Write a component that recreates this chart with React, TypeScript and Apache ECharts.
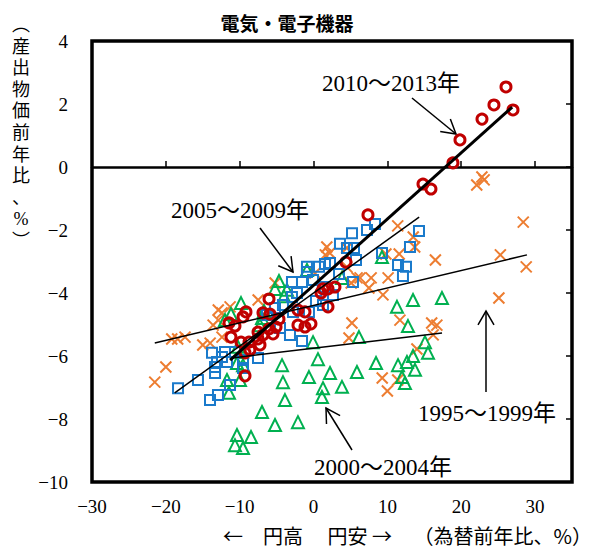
import React, { useEffect, useRef } from "react";
import * as echarts from "echarts";

const titleText = "電気・電子機器";
const xAxisNameLeft = "←　円高　 円安 →";
const xAxisNameRight = "（為替前年比、%）";
const yAxisNameChars = ["︵", "産", "出", "物", "価", "前", "年", "比", "、", "%", "︶"];
const xMin = -30;
const xMax = 35;
const yMin = -10;
const yMax = 4;

// 1995～1999年 (orange crosses)
const s1995: number[][] = [
  [-21.5, -6.83], [-20.0, -6.35], [-19.2, -5.46], [-18.4, -5.46], [-17.4, -5.4], [-15.0, -5.65],
  [-14.0, -5.59], [-13.6, -5.02], [-12.9, -4.54], [-12.4, -4.63], [-11.3, -4.44], [-12.4, -5.4],
  [-7.5, -4.22], [-5.2, -3.68], [-12.9, -4.86], [1.6, -2.79], [0.2, -3.37], [11.4, -1.87],
  [13.5, -2.22], [13.7, -2.54], [16.5, -2.95], [11.6, -2.76], [9.8, -2.76], [10.1, -3.52],
  [9.4, -4.06], [7.8, -3.52], [5.9, -3.52], [5.1, -3.68], [7.5, -3.84], [1.8, -2.54],
  [2.2, -2.73], [4.5, -2.57], [4.5, -3.17], [5.2, -4.95], [4.8, -5.43], [11.7, -4.86],
  [16.0, -4.95], [16.7, -5.02], [16.2, -5.33], [14.0, -5.78], [9.3, -6.7], [11.4, -6.76],
  [10.0, -7.11], [22.1, -0.57], [22.8, -0.32], [23.1, -0.41], [28.4, -1.75], [25.3, -2.79],
  [28.8, -3.17], [25.1, -4.16], [6.3, -3.52],
];

// 2000～2004年 (green triangles)
const s2000: number[][] = [
  [-4.27, -6.29], [-4.14, -6.83], [-3.87, -7.4], [-6.98, -7.78], [-5.22, -8.19], [-10.37, -8.51],
  [-8.47, -8.57], [-10.64, -8.83], [-9.55, -8.92], [-11.72, -6.76], [-9.96, -6.76], [-11.45, -7.17],
  [-2.11, -8.1], [0.6, -6.1], [-0.62, -6.67], [2.23, -6.54], [1.28, -7.02], [1.14, -7.3],
  [3.85, -6.98], [5.88, -6.51], [8.46, -6.22], [11.44, -6.29], [12.65, -6.19], [13.47, -6.0],
  [13.74, -6.44], [11.98, -6.67], [12.38, -6.86], [15.09, -5.56], [15.5, -5.9], [-0.07, -5.56],
  [6.15, -5.4], [9.27, -2.86], [13.47, -4.22], [17.39, -4.16], [11.3, -4.44], [12.79, -5.05],
  [3.85, -3.52], [-4.68, -3.62], [-0.89, -3.27], [-3.6, -3.9], [-4.0, -4.1], [-9.82, -4.32],
  [-6.71, -4.57], [-11.18, -4.67], [-6.98, -4.79], [-11.99, -4.86], [-7.25, -5.02], [-10.23, -5.71],
  [-9.69, -5.87], [-10.37, -6.22], [-9.55, -6.29], [-5.22, -3.87],
];

// 2005～2009年 (blue squares)
const s2005: number[][] = [
  [8.32, -1.81], [7.24, -2.0], [5.21, -2.1], [14.28, -2.03], [13.06, -2.54], [9.27, -2.73],
  [11.44, -3.11], [12.52, -3.17], [12.11, -3.46], [3.58, -2.44], [4.53, -2.57], [5.48, -2.57],
  [5.75, -2.95], [3.45, -3.4], [5.34, -3.65], [1.55, -3.08], [2.23, -3.05], [0.74, -3.17],
  [-0.89, -3.17], [-0.89, -3.33], [-2.92, -3.65], [-1.56, -3.65], [-0.07, -3.59], [-2.92, -4.13],
  [-2.24, -4.0], [0.33, -4.25], [1.28, -4.38], [-0.62, -4.6], [2.63, -4.06], [-2.78, -4.6],
  [-3.19, -5.33], [-1.56, -5.52], [-4.54, -5.11], [-4.14, -4.38], [-5.22, -4.48], [-6.3, -4.7],
  [1.55, -3.81], [-13.75, -5.9], [-12.4, -6.03], [-13.07, -6.19], [-13.34, -6.35], [-11.99, -5.87],
  [-10.64, -5.87], [-9.55, -6.13], [-9.55, -6.38], [-7.52, -6.06], [-13.34, -6.54], [-15.65, -6.76],
  [-18.35, -7.02], [-14.02, -7.4], [-12.94, -7.24], [-11.31, -6.92], [-11.72, -6.19],
];

// 2010～2013年 (red circles)
const s2010: number[][] = [
  [26.06, 2.54], [24.43, 1.97], [22.81, 1.52], [19.83, 0.86], [18.88, 0.13], [14.82, -0.54],
  [15.9, -0.7], [27.01, 1.81], [7.37, -1.52], [4.39, -3.02], [2.9, -3.81], [1.96, -3.87],
  [1.01, -4.0], [1.96, -4.44], [-2.11, -4.54], [-1.16, -4.6], [-2.11, -5.02], [-1.16, -5.08],
  [-0.35, -4.98], [-6.03, -4.19], [-9.15, -4.6], [-9.55, -4.76], [-11.45, -4.95], [-10.64, -5.05],
  [-6.85, -4.63], [-5.9, -4.67], [-4.68, -4.83], [-5.08, -5.08], [-6.03, -5.14], [-7.52, -5.24],
  [-6.85, -5.33], [-5.49, -5.3], [-7.52, -5.46], [-8.74, -5.56], [-11.18, -5.4], [-9.82, -5.56],
  [-8.61, -5.81], [-9.28, -5.9], [-7.25, -5.65], [-9.28, -6.63], [1.28, -3.87],
];

// regression lines (end points)
const fit1995: number[][] = [[-21.5, -5.59], [28.9, -2.79]];
const fit2000: number[][] = [[-11.0, -6.06], [17.4, -5.27]];
const fit2005: number[][] = [[-18.8, -7.17], [14.3, -1.59]];
const fit2010: number[][] = [[-11.3, -6.13], [26.9, 1.9]];

const annotations = [
  { text: "2010～2013年", x: 391, y: 83, tail: [412, 98], tip: [456, 134] },
  { text: "2005～2009年", x: 240, y: 210, tail: [260, 228], tip: [293, 272] },
  { text: "1995～1999年", x: 487, y: 413, tail: [486, 392], tip: [486, 311] },
  { text: "2000～2004年", x: 383, y: 467, tail: [352, 450], tip: [326, 408] },
];

const SERIF = '"Liberation Serif", "Noto Sans CJK JP", serif';
const CJK = '"Noto Sans CJK JP", sans-serif';

function fmt(v: number): string {
  if (v > 30) return "";
  return v < 0 ? "\u2212" + Math.abs(v) : String(v);
}

function arrowHead(tail: number[], tip: number[], len = 16, ang = (30 * Math.PI) / 180) {
  const dx = tail[0] - tip[0];
  const dy = tail[1] - tip[1];
  const d = Math.hypot(dx, dy);
  const ux = dx / d;
  const uy = dy / d;
  const rot = (a: number) => [
    tip[0] + len * (ux * Math.cos(a) - uy * Math.sin(a)),
    tip[1] + len * (ux * Math.sin(a) + uy * Math.cos(a)),
  ];
  return [rot(ang), tip, rot(-ang)];
}

export default function App() {
  const ref = useRef<HTMLDivElement>(null);
  useEffect(() => {
    if (!ref.current) return;
    const chart = echarts.init(ref.current, undefined, { renderer: "svg" });

    const graphics: any[] = [
      {
        type: "text",
        x: 287,
        y: 22,
        style: { text: titleText, font: `bold 19px ${CJK}`, fill: "#000", align: "center", verticalAlign: "middle" },
      },
      {
        type: "text",
        x: 223,
        y: 535,
        style: { text: xAxisNameLeft, font: `20px ${CJK}`, fill: "#000", align: "left", verticalAlign: "middle" },
      },
      {
        type: "text",
        x: 592,
        y: 535,
        style: { text: xAxisNameRight, font: `20px ${CJK}`, fill: "#000", align: "right", verticalAlign: "middle" },
      },
    ];
    yAxisNameChars.forEach((c, i) => {
      graphics.push({
        type: "text",
        x: 21,
        y: 25 + i * 21.6,
        style: { text: c, font: `18px ${SERIF}`, fill: "#000", align: "center", verticalAlign: "middle" },
      });
    });
    annotations.forEach((a) => {
      graphics.push({
        type: "text",
        x: a.x,
        y: a.y,
        style: { text: a.text, font: `23px ${SERIF}`, fill: "#000", align: "center", verticalAlign: "middle" },
      });
      graphics.push({
        type: "line",
        shape: { x1: a.tail[0], y1: a.tail[1], x2: a.tip[0], y2: a.tip[1] },
        style: { stroke: "#000", lineWidth: 1.5 },
      });
      graphics.push({
        type: "polyline",
        shape: { points: arrowHead(a.tail, a.tip) },
        style: { stroke: "#000", lineWidth: 1.5, fill: null },
      });
    });

    const scatter = (name: string, data: number[][], symbol: string, size: number, color: string, bw: number) => ({
      name,
      type: "scatter",
      data,
      symbol,
      symbolSize: size,
      xAxisIndex: 0,
      yAxisIndex: 0,
      itemStyle: { color: "rgba(0,0,0,0)", borderColor: color, borderWidth: bw, opacity: 1 },
      emphasis: { disabled: true },
    });
    const fitLine = (data: number[][], width: number) => ({
      type: "line",
      data,
      xAxisIndex: 0,
      yAxisIndex: 0,
      symbol: "none",
      lineStyle: { color: "#000", width },
      z: 5,
    });

    chart.setOption({
      animation: false,
      backgroundColor: "#fff",
      grid: {
        left: 92,
        top: 41,
        right: 28,
        bottom: 69,
        show: true,
        borderColor: "#000",
        borderWidth: 3.5,
        backgroundColor: "transparent",
      },
      xAxis: [
        {
          type: "value",
          min: xMin,
          max: xMax,
          interval: 10,
          position: "bottom",
          axisLine: { show: false, onZero: false },
          axisTick: { show: false },
          splitLine: { show: false },
          axisLabel: { fontSize: 19, color: "#000", fontFamily: SERIF, margin: 15, formatter: fmt },
        },
        {
          type: "value",
          min: xMin,
          max: xMax,
          interval: 10,
          position: "bottom",
          axisLine: { show: true, onZero: true, lineStyle: { color: "#000", width: 2.5 } },
          axisTick: { show: true, inside: true, length: 6, lineStyle: { color: "#000", width: 1.5 } },
          splitLine: { show: false },
          axisLabel: { show: false },
        },
      ],
      yAxis: [
        {
          type: "value",
          min: yMin,
          max: yMax,
          interval: 2,
          position: "left",
          axisLine: { show: false, onZero: false },
          axisTick: { show: false },
          splitLine: { show: false },
          axisLabel: { fontSize: 19, color: "#000", fontFamily: SERIF, margin: 24, formatter: fmt },
        },
        {
          type: "value",
          min: yMin,
          max: yMax,
          interval: 2,
          position: "right",
          axisLine: { show: false, onZero: false },
          axisTick: { show: true, inside: true, length: 6, lineStyle: { color: "#000", width: 1.5 } },
          splitLine: { show: false },
          axisLabel: { show: false },
        },
      ],
      series: [
        scatter("1995～1999年", s1995, "path://M0,0L10,10M10,0L0,10", 11, "#ED7D31", 2),
        scatter("2000～2004年", s2000, "triangle", 12, "#00B050", 2),
        scatter("2005～2009年", s2005, "rect", 10, "#1A7ACB", 2),
        scatter("2010～2013年", s2010, "circle", 10, "#C00000", 3),
        fitLine(fit1995, 1.5),
        fitLine(fit2000, 1.5),
        fitLine(fit2005, 1.5),
        fitLine(fit2010, 3),
      ],
      graphic: graphics,
    });
    return () => chart.dispose();
  }, []);
  return <div ref={ref} style={{ position: "fixed", left: 0, top: 0, width: 600, height: 551 }} />;
}
